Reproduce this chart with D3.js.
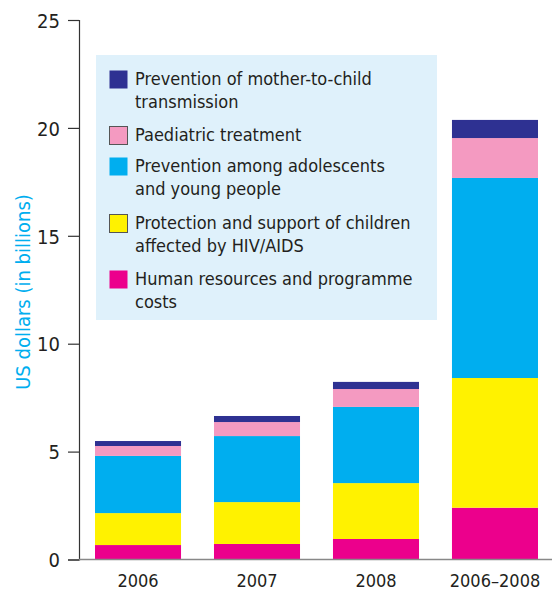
<!DOCTYPE html>
<html>
<head>
<meta charset="utf-8">
<script src="https://cdn.jsdelivr.net/npm/d3@7"></script>
<style>
body { margin: 0; background: #fff; }
text { font-family: "Liberation Sans Narrow", "DejaVu Sans Condensed", "Roboto", sans-serif; }
</style>
</head>
<body>
<svg id="chart" width="552" height="590"></svg>
<script>
'use strict'

var periods = ['2006', '2007', '2008', '2006\u20132008'];
var seriesNames = [
	'Human resources and programme costs',
	'Protection and support of children affected by HIV/AIDS',
	'Prevention among adolescents and young people',
	'Paediatric treatment',
	'Prevention of mother-to-child transmission'
];
var humanResources = [0.67, 0.72, 0.95, 2.40];
var protection = [1.48, 1.94, 2.59, 6.01];
var adolescents = [2.65, 3.06, 3.53, 9.27];
var paediatric = [0.46, 0.65, 0.83, 1.85];
var pmtct = [0.23, 0.28, 0.33, 0.84];
var yTicks = [0, 5, 10, 15, 20, 25];

var colors = ['#ec008c', '#fff200', '#00aeef', '#f49ac1', '#2e3192'];

// legend order is top of stack first, with the wrapped lines
var legendLines = [
	['Prevention of mother-to-child', 'transmission'],
	['Paediatric treatment'],
	['Prevention among adolescents', 'and young people'],
	['Protection and support of children', 'affected by HIV/AIDS'],
	['Human resources and programme', 'costs']
];
var legendColors = ['#2e3192', '#f49ac1', '#00aeef', '#fff200', '#ec008c'];
var legendBorder = [false, true, false, true, false];

function draw(){
	var svg = d3.select('#chart');

	var rows = periods.map(function(p, i){
		return {
			period: p,
			s0: humanResources[i],
			s1: protection[i],
			s2: adolescents[i],
			s3: paediatric[i],
			s4: pmtct[i]
		};
	});

	var x = d3.scaleBand()
		.domain(periods)
		.range([79, 554])
		.paddingInner(0.277)
		.paddingOuter(0.1345);

	var y = d3.scaleLinear()
		.domain([0, 25])
		.range([559.5, 20]);

	var stack = d3.stack().keys(['s0', 's1', 's2', 's3', 's4']);
	var layers = stack(rows);

	svg.selectAll('g.layer')
		.data(layers)
		.enter().append('g')
		.attr('class', 'layer')
		.attr('fill', function(d, i){ return colors[i]; })
		.selectAll('rect')
		.data(function(d){ return d; })
		.enter().append('rect')
		.attr('x', function(d){ return x(d.data.period); })
		.attr('width', x.bandwidth())
		.attr('y', function(d){ return y(d[1]); })
		.attr('height', function(d){ return y(d[0]) - y(d[1]); });

	// y axis
	var yAxis = d3.axisLeft(y)
		.tickValues(yTicks)
		.tickSize(11)
		.tickPadding(8);

	var gy = svg.append('g')
		.attr('transform', 'translate(79,0)')
		.call(yAxis);
	gy.select('.domain').attr('stroke', '#333').attr('stroke-width', 1.2);
	gy.selectAll('.tick line').attr('stroke', '#333').attr('stroke-width', 1.2);
	gy.selectAll('.tick text')
		.attr('fill', '#231f20')
		.style('font-size', '20px')
		.attr('dy', '0.36em');

	// baseline
	svg.append('line')
		.attr('x1', 79).attr('x2', 552)
		.attr('y1', y(0)).attr('y2', y(0))
		.attr('stroke', '#888')
		.attr('stroke-width', 1.5);

	// x labels
	var xAxis = d3.axisBottom(x).tickSize(0).tickPadding(0);
	var gx = svg.append('g')
		.attr('transform', 'translate(0,' + y(0) + ')')
		.call(xAxis);
	gx.select('.domain').remove();
	gx.selectAll('.tick text')
		.attr('fill', '#231f20')
		.attr('y', 27)
		.attr('dy', 0)
		.style('font-size', '18px');

	// y title
	svg.append('text')
		.attr('transform', 'translate(30,292) rotate(-90)')
		.attr('text-anchor', 'middle')
		.attr('fill', '#00aeef')
		.style('font-size', '20px')
		.text('US dollars (in billions)');

	// legend
	var lg = svg.append('g');
	lg.append('rect')
		.attr('x', 96).attr('y', 55)
		.attr('width', 341).attr('height', 265)
		.attr('fill', '#dff1fb');

	var itemTop = [70, 126, 157, 214, 270];
	legendLines.forEach(function(lines, i){
		lg.append('rect')
			.attr('x', 109.5).attr('y', itemTop[i] + 0.5)
			.attr('width', 18).attr('height', 18)
			.attr('fill', legendColors[i])
			.attr('stroke', legendBorder[i] ? '#555' : 'none')
			.attr('stroke-width', 1);
		lines.forEach(function(line, j){
			lg.append('text')
				.attr('x', 135)
				.attr('y', itemTop[i] + 15 + j * 23)
				.attr('fill', '#231f20')
				.style('font-size', '18px')
				.text(line);
		});
	});
}

draw();
</script>
</body>
</html>
